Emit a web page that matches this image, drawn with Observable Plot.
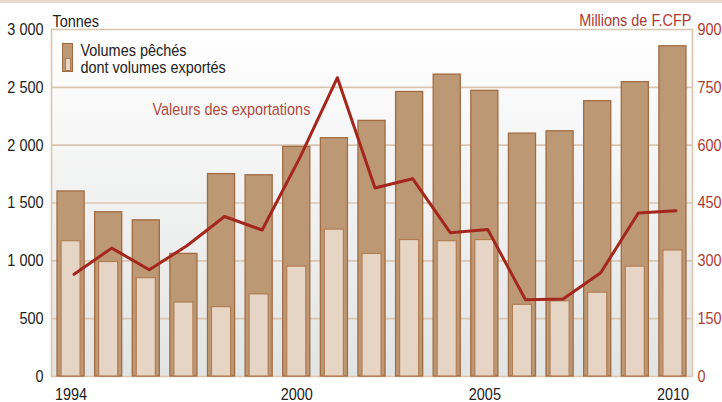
<!DOCTYPE html>
<html><head><meta charset="utf-8">
<script src="https://cdn.jsdelivr.net/npm/d3@7"></script>
<script src="https://cdn.jsdelivr.net/npm/@observablehq/plot@0.6"></script>
<style>
body{margin:0;background:#fff;}
#wrap{position:relative;width:722px;height:402px;font-family:"Liberation Sans",Arial,sans-serif;}
#band{position:absolute;left:0;top:0;width:722px;height:3px;background:#e8d9ca;}
.sw{position:absolute;box-sizing:border-box;}
</style></head>
<body>
<div id="wrap">
<div id="band"></div>
<div class="sw" style="left:62px;top:43px;width:11px;height:29px;background:#bd9875;border:1.3px solid #a06a40;"></div>
<div class="sw" style="left:65px;top:58px;width:6px;height:13px;background:#e6d5c5;border:1px solid #b07a4e;"></div>
</div>
<script>
const years = [1994,1995,1996,1997,1998,1999,2000,2001,2002,2003,2004,2005,2006,2007,2008,2009,2010];
const volumesPeches = [1600,1420,1350,1060,1750,1740,1985,2060,2210,2460,2610,2470,2100,2120,2380,2545,2855];
const volumesExportes = [1170,990,850,640,600,710,950,1270,1060,1180,1170,1180,620,650,725,950,1090];
const valeursExport = [265,333,277,339,415,380,567,775,489,513,373,381,199,201,269,424,430];
const leftTicks = [0,500,1000,1500,2000,2500,3000];
const rightTicks = [0,150,300,450,600,750,900];
const xTicks = [1994,2000,2005,2010];

const ratio = 3000 / 900;
const data = years.map((y, i) => ({year: y, peches: volumesPeches[i], exportes: volumesExportes[i], valeur: valeursExport[i] * ratio}));
const fmt = d => d >= 1000 ? `${Math.floor(d/1000)} ${String(d%1000).padStart(3,"0")}` : String(d);
const red = "#ad3a32";
const tan = "#dac5b0";

const chart = Plot.plot({
  width: 722, height: 402,
  marginTop: 29, marginBottom: 26, marginLeft: 51, marginRight: 30,
  style: {fontFamily: '"Liberation Sans",Arial,sans-serif', fontSize: "17px", color: "#222", background: "transparent", overflow: "visible"},
  x: {type: "band", domain: years, paddingInner: 0.28, paddingOuter: 0.16, round: false},
  y: {domain: [0, 3000]},
  marks: [
    Plot.frame({fill: "url(#bgGrad)", stroke: null}),
    Plot.gridY(leftTicks, {stroke: tan, strokeOpacity: 1, strokeWidth: 1.6}),
    Plot.frame({anchor: "left", stroke: tan, strokeWidth: 1.6}),
    Plot.frame({anchor: "right", stroke: tan, strokeWidth: 1.6}),
    Plot.barY(data, {x: "year", y: "peches", fill: "#bd9875", stroke: "#a26b41", strokeWidth: 1.3}),
    Plot.barY(data, {x: "year", y: "exportes", fill: "#e6d5c5", stroke: "#b37d52", strokeWidth: 1.2, insetLeft: 4, insetRight: 4}),
    Plot.line(data, {x: "year", y: "valeur", stroke: "#a3271d", strokeWidth: 3, dx: 3}),
    Plot.axisY(leftTicks, {tickSize: 0, tickPadding: 8, tickFormat: fmt, label: null, fill: "#222"}),
    Plot.axisY(leftTicks, {anchor: "right", tickSize: 0, tickPadding: 5, tickFormat: d => String(rightTicks[leftTicks.indexOf(d)]), label: null, fill: red}),
    Plot.axisX(xTicks, {tickSize: 0, tickPadding: 11, tickFormat: d => String(d), label: null, fill: "#222"}),
    Plot.text(["Tonnes"], {frameAnchor: "top-left", textAnchor: "start", lineAnchor: "bottom", dx: 1, dy: -3, fill: "#222"}),
    Plot.text(["Millions de F.CFP"], {frameAnchor: "top-right", textAnchor: "end", lineAnchor: "bottom", dx: -1, dy: -4, fill: red}),
    Plot.text(["Valeurs des exportations"], {frameAnchor: "top-left", textAnchor: "start", lineAnchor: "bottom", dx: 101, dy: 85, fill: "#b04a40"}),
    Plot.text(["Volumes pêchés\ndont volumes exportés"], {frameAnchor: "top-left", textAnchor: "start", lineAnchor: "bottom", lineHeight: 0.98, dx: 29, dy: 43, fill: "#222"})
  ]
});
chart.insertAdjacentHTML("afterbegin", '<defs><linearGradient id="bgGrad" x1="0" y1="0" x2="0" y2="1"><stop offset="0" stop-color="#ffffff"/><stop offset="1" stop-color="#e2e3e3"/></linearGradient></defs>');
chart.style.position = "absolute";
chart.style.left = "0";
chart.style.top = "0";
const wrap = document.getElementById("wrap");
wrap.insertBefore(chart, wrap.firstChild);
// condense text horizontally to mimic a narrow typeface
const k = 0.85;
chart.querySelectorAll("text").forEach(t => {
  const a = getComputedStyle(t).textAnchor;
  const b = t.getBBox();
  const ox = a === "end" ? b.x + b.width : a === "middle" ? b.x + b.width / 2 : b.x;
  const prev = t.getAttribute("transform") || "";
  t.setAttribute("transform", `${prev} translate(${ox},0) scale(${k},1) translate(${-ox},0)`.trim());
});
</script>
</body></html>
